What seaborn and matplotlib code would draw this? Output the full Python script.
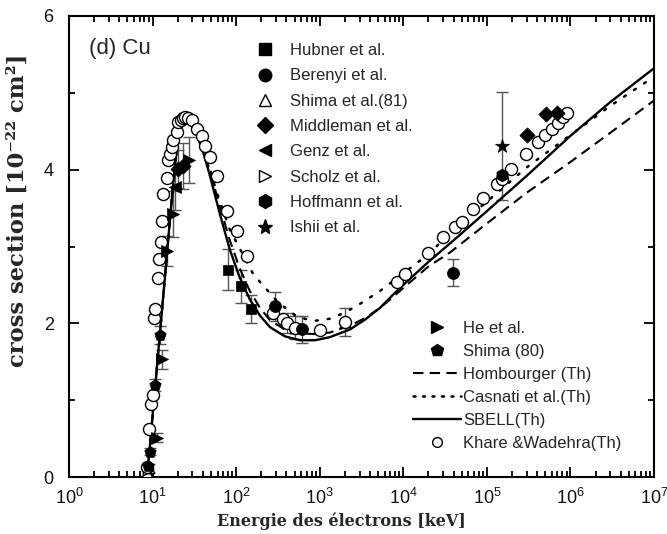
import matplotlib
matplotlib.use("Agg")
import matplotlib.pyplot as plt
from matplotlib.lines import Line2D
from matplotlib.ticker import LogLocator, MultipleLocator, NullFormatter
import seaborn as sns

# ---- theoretical curves: K-shell ionisation cross section of Cu ----
e_sbell = [8.6, 10.7, 14, 17, 20, 22.5, 25, 28, 32, 40, 48.6, 64, 84, 110, 146, 193,
           254, 384, 580, 880, 1320, 2300, 3500, 5250, 7500, 1e4, 2e4, 4e4, 1e5,
           3e5, 1e6, 3e6, 1e7]
cs_sbell = [0, 1.15, 2.58, 3.63, 4.40, 4.58, 4.63, 4.59, 4.52, 4.24, 3.92, 3.42, 2.96,
            2.60, 2.31, 2.10, 1.95, 1.83, 1.78, 1.78, 1.82, 1.92, 2.05, 2.20, 2.37,
            2.50, 2.80, 3.08, 3.46, 3.92, 4.44, 4.88, 5.32]

e_homb = [8.6, 10.7, 14, 17, 20, 22.5, 25, 28, 32, 40, 48.6, 64, 84, 110, 146, 193,
          254, 384, 580, 880, 1320, 2300, 3500, 5250, 7500, 1e4, 2e4, 3.6e4, 1e5,
          3e5, 1e6, 3e6, 1e7]
cs_homb = [0, 1.15, 2.58, 3.63, 4.40, 4.58, 4.62, 4.58, 4.52, 4.28, 3.98, 3.52, 3.08,
           2.72, 2.42, 2.20, 2.04, 1.92, 1.87, 1.86, 1.88, 1.97, 2.07, 2.20, 2.34,
           2.46, 2.74, 2.92, 3.30, 3.70, 4.10, 4.48, 4.90]

e_cas = [8.6, 10.7, 14, 17, 20, 22.5, 25, 28, 32, 40, 58, 84, 120, 160, 232, 320, 530,
         830, 1320, 2000, 3000, 5250, 1e4, 2e4, 3.6e4, 1.4e5, 3e5, 1e6, 3e6, 1e7]
cs_cas = [0, 1.15, 2.58, 3.63, 4.40, 4.60, 4.65, 4.62, 4.55, 4.32, 3.72, 3.22, 2.90,
          2.64, 2.44, 2.27, 2.09, 2.03, 2.06, 2.14, 2.25, 2.42, 2.65, 2.90, 3.17,
          3.72, 4.03, 4.45, 4.83, 5.21]

e_kw = [8.5, 8.98, 9.49, 10.03, 10.39, 10.68, 11.7, 12.03, 12.5, 12.85, 13.43, 14.75,
        15.41, 16.15, 16.93, 17.69, 19.43, 20.3, 21.9, 23.1, 24.4, 26.4, 29.4, 33.7,
        38.7, 42.4, 48.6, 58.4, 78.7, 101, 134, 278, 366, 405, 505, 1005, 2000, 8320,
        1.04e4, 1.99e4, 3.0e4, 4.14e4, 4.98e4, 6.86e4, 9.03e4, 1.31e5, 1.5e5, 1.97e5,
        2.98e5, 4.11e5, 4.94e5, 5.94e5, 7.13e5, 8.18e5, 9.13e5]
cs_kw = [0.13, 0.62, 0.95, 1.07, 2.07, 2.19, 2.59, 2.84, 3.06, 3.33, 3.68, 3.89, 4.12,
         4.20, 4.29, 4.38, 4.49, 4.62, 4.65, 4.67, 4.68, 4.67, 4.64, 4.53, 4.44, 4.31,
         4.16, 3.92, 3.46, 3.20, 2.87, 2.14, 2.05, 2.01, 1.94, 1.91, 2.02, 2.54, 2.64,
         2.91, 3.12, 3.25, 3.32, 3.49, 3.63, 3.81, 3.88, 4.01, 4.20, 4.36, 4.45, 4.53,
         4.61, 4.68, 4.74]

# ---- experimental data (energy keV, cross section, error) ----
e_hubner = [80.5, 114, 150]
cs_hubner = [2.70, 2.48, 2.19]
err_hubner = [0.27, 0.22, 0.18]

e_berenyi = [291, 607, 3.95e4]
cs_berenyi = [2.22, 1.92, 2.66]
err_berenyi = [0.19, 0.17, 0.18]

e_shima81 = [8.6, 9.0, 405, 505, 2000]
cs_shima81 = [0.06, 0.12, 2.01, 1.94, 2.02]
err_shima81 = [0.05, 0.05, 0.13, 0.15, 0.18]

e_middleman = [20.3, 23.3, 3.03e5, 5.08e5, 6.93e5]
cs_middleman = [4.01, 4.05, 4.45, 4.73, 4.74]
err_middleman = [0.25, 0.30, 0.0, 0.0, 0.0]

e_genz = [18.6]
cs_genz = [3.77]
err_genz = [0.30]

e_scholz = [8.8]
cs_scholz = [0.09]

e_hoffmann = [1.5e5]
cs_hoffmann = [3.93]

e_ishii = [1.5e5]
cs_ishii = [4.31]
err_ishii = [0.70]

e_he = [11.2, 12.8, 14.7, 17.7, 27.0]
cs_he = [0.51, 1.53, 2.94, 3.42, 4.12]
err_he = [0.06, 0.12, 0.20, 0.30, 0.30]

e_shima80 = [8.85, 9.3, 10.7, 12.3]
cs_shima80 = [0.14, 0.33, 1.20, 1.85]
err_shima80 = [0.03, 0.05, 0.08, 0.12]

sns.set_theme(style="ticks")
plt.rcParams["font.family"] = ["Liberation Sans", "DejaVu Sans"]
plt.rcParams["axes.linewidth"] = 1.5

fig = plt.figure(figsize=(6.67, 5.34), dpi=100)
ax = fig.add_axes([69 / 667, 57 / 534, 585 / 667, 461 / 534])

# theory lines
sns.lineplot(x=e_homb, y=cs_homb, ax=ax, color="black", lw=1.5, sort=False,
             linestyle=(0, (5, 3)), zorder=3)
sns.lineplot(x=e_cas, y=cs_cas, ax=ax, color="black", lw=1.8, sort=False,
             linestyle=(0, (0.8, 4)), dash_capstyle="round", zorder=3)
sns.lineplot(x=e_sbell, y=cs_sbell, ax=ax, color="black", lw=1.7, sort=False, zorder=3)

# error bars
ebar = dict(fmt="none", ecolor="#555555", elinewidth=1.0, capsize=4, capthick=1.0, zorder=2)
for ex, ey, ee in [(e_hubner, cs_hubner, err_hubner), (e_berenyi, cs_berenyi, err_berenyi),
                   (e_shima81, cs_shima81, err_shima81), (e_middleman, cs_middleman, err_middleman),
                   (e_genz, cs_genz, err_genz), (e_ishii, cs_ishii, err_ishii),
                   (e_he, cs_he, err_he), (e_shima80, cs_shima80, err_shima80)]:
    ax.errorbar(ex, ey, yerr=ee, **ebar)

sc = dict(ax=ax, legend=False)
sns.scatterplot(x=e_shima81, y=cs_shima81, marker="^", s=55, color="white",
                edgecolor="black", linewidth=1.0, zorder=4, **sc)
sns.scatterplot(x=e_scholz, y=cs_scholz, marker=">", s=55, color="white",
                edgecolor="black", linewidth=1.0, zorder=4, **sc)
# Khare & Wadehra open circles
sns.scatterplot(x=e_kw, y=cs_kw, marker="o", s=75, color="white",
                edgecolor="black", linewidth=1.0, zorder=5, **sc)

filled = dict(color="black", edgecolor="black", linewidth=0.5, zorder=6, **sc)
sns.scatterplot(x=e_hubner, y=cs_hubner, marker="s", s=60, **filled)
sns.scatterplot(x=e_berenyi, y=cs_berenyi, marker="o", s=75, **filled)
sns.scatterplot(x=e_middleman, y=cs_middleman, marker="D", s=60, **filled)
sns.scatterplot(x=e_genz, y=cs_genz, marker="<", s=75, **filled)
sns.scatterplot(x=e_hoffmann, y=cs_hoffmann, marker="h", s=85, **filled)
sns.scatterplot(x=e_ishii, y=cs_ishii, marker="*", s=110, **filled)
sns.scatterplot(x=e_he, y=cs_he, marker=">", s=75, **filled)
sns.scatterplot(x=e_shima80, y=cs_shima80, marker="p", s=75, **filled)

# axes
ax.set_xscale("log")
ax.set_xlim(1, 1e7)
ax.set_ylim(0, 6)
ax.xaxis.set_major_locator(LogLocator(base=10, numticks=20))
ax.xaxis.set_minor_locator(LogLocator(base=10, subs=range(2, 10), numticks=100))
ax.xaxis.set_minor_formatter(NullFormatter())
ax.yaxis.set_major_locator(MultipleLocator(2))
ax.yaxis.set_minor_locator(MultipleLocator(1))
ax.tick_params(which="both", direction="in", top=True, right=True, color="black",
               width=1.3)
ax.tick_params(which="major", length=7, labelsize=13, labelcolor="#111111")
ax.tick_params(which="minor", length=4)
ax.tick_params(axis="x", which="major", pad=8)
ax.tick_params(axis="y", which="major", pad=11)
for sp in ax.spines.values():
    sp.set_visible(True)
    sp.set_color("black")

ax.set_xlabel("Energie des électrons [keV]", family="DejaVu Serif", weight="bold",
              fontsize=11.5, va="center")
ax.set_ylabel("cross section [10⁻²² cm²]", family="DejaVu Serif", weight="bold",
              fontsize=16.3, va="center")
ax.xaxis.set_label_coords(0.465, -0.095)
ax.yaxis.set_label_coords(-0.087, 0.579)

ax.text(0.034, 0.929, "(d) Cu", transform=ax.transAxes, fontsize=16, va="center")

def h(marker, filled_marker=True, ms=9):
    return Line2D([], [], linestyle="none", marker=marker, markersize=ms,
                  markerfacecolor="black" if filled_marker else "white",
                  markeredgecolor="black", markeredgewidth=1.0)

leg1_handles = [h("s", ms=8), h("o"), h("^", False), h("D", ms=8), h("<"),
                h(">", False), h("h", ms=10), h("*", ms=11)]
leg1_labels = ["Hubner et al.", "Berenyi et al.", "Shima et al.(81)", "Middleman et al.",
               "Genz et al.", "Scholz et al.", "Hoffmann et al.", "Ishii et al."]
leg1 = fig.legend(leg1_handles, leg1_labels, loc="upper left",
                  bbox_to_anchor=(248 / 667, 1 - 43 / 534), frameon=False, fontsize=12,
                  handlelength=2.0, handletextpad=0.55, labelspacing=0.62, borderpad=0,
                  borderaxespad=0)

leg2_handles = [h(">"), h("p"),
                Line2D([], [], color="black", lw=1.5, linestyle=(0, (5, 3))),
                Line2D([], [], color="black", lw=1.8, linestyle=(0, (0.8, 3)),
                       dash_capstyle="round"),
                Line2D([], [], color="black", lw=1.7),
                h("o", False, ms=7)]
leg2_labels = ["He et al.", "Shima (80)", "Hombourger (Th)", "Casnati et al.(Th)",
               "SBELL(Th)", "Khare &Wadehra(Th)"]
leg2 = fig.legend(leg2_handles, leg2_labels, loc="upper left",
                  bbox_to_anchor=(413 / 667, 1 - 321 / 534), frameon=False, fontsize=12,
                  handlelength=2.85, handletextpad=0.15, labelspacing=0.48, borderpad=0,
                  borderaxespad=0)

fig.savefig("out.png", dpi=100)
